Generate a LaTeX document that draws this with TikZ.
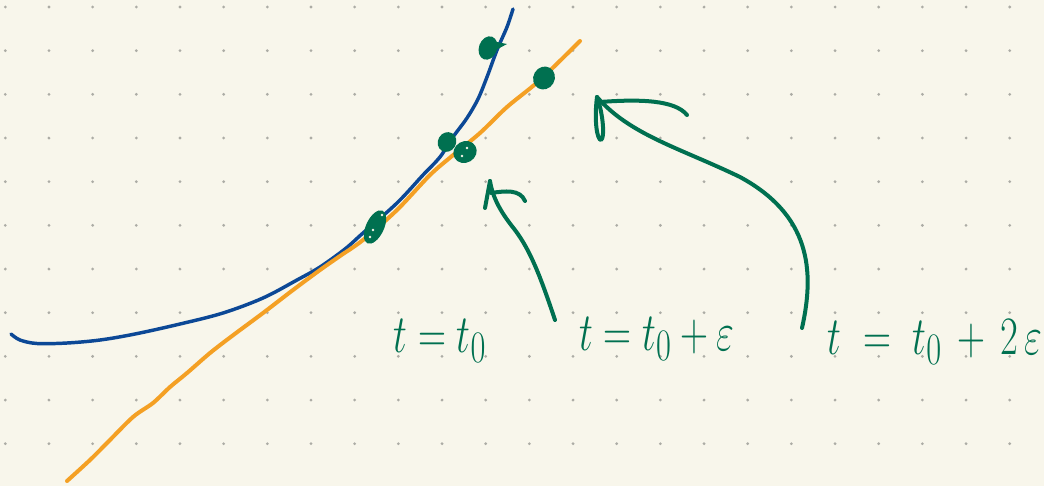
\documentclass[tikz,border=0pt]{standalone}
\usepackage{graphicx}
\definecolor{paper}{RGB}{248,246,235}
\definecolor{griddot}{RGB}{172,172,165}
\definecolor{curveblue}{RGB}{12,72,150}
\definecolor{lineorange}{RGB}{244,160,36}
\definecolor{inkgreen}{RGB}{0,112,80}
\tikzset{
  bluecurve/.style={draw=curveblue, line width=2.6pt, line cap=round, line join=round},
  orangeline/.style={draw=lineorange, line width=3pt, line cap=round, line join=round},
  inkstroke/.style={draw=inkgreen, line width=3pt, line cap=round, line join=round},
  blob/.style={fill=inkgreen},
  speck/.style={fill=paper},
  handlabel/.style={text=inkgreen, anchor=base, inner sep=0pt, font=\Huge},
}
% hand lettering: a little wider and much taller than the font
\newcommand{\tall}[1]{\scalebox{1.17}[1.63]{#1}}
\begin{document}
\begin{tikzpicture}[x=0.75pt, y=-0.75pt]
  % paper and dot grid
  \fill[paper] (0,0) rectangle (1044,486);
  \useasboundingbox (0,0) rectangle (1044,486);
  \foreach \i in {0,...,23}
    \foreach \j in {0,...,10}
      \fill[griddot] ({5.3+43.67*\i},{7+43.67*\j}) circle (1.15pt);

  % the curve
  \draw[bluecurve] plot[smooth, tension=0.55] coordinates {
    (11,334) (20,340) (37,343.5) (67,343) (100,340) (135,334) (180,324)
    (223,313) (263,298) (297,280) (320,267) (345,249) (363,233) (397,203)
    (423,175) (440,157) (453,137) (467,118) (478,99) (487,77) (497,50)
    (507,27) (513,9)};

  % the straight line (drawn by hand)
  \draw[orangeline] plot[smooth, tension=0.5] coordinates {
    (67,481) (90,460) (107,443) (133,417) (153,403) (170,387) (187,373)
    (210,353) (232,336) (263,313) (293,290) (320,270) (340,256) (363,240)
    (397,210) (430,175) (452,156) (480,133) (507,107) (540,80) (580,41)};

  % marked points
  \fill[blob, rotate around={-25:(375,227)}] (375,227) ellipse (6.75pt and 13.5pt);
  \fill[speck] (382,215) circle (1.1pt);
  \fill[speck] (373,230) circle (1pt);
  \fill[speck] (370,237) circle (1pt);

  \fill[blob, rotate around={-30:(447,142)}] (447,142) ellipse (6.8pt and 7.6pt);

  \fill[blob, rotate around={30:(465,152)}] (465,152) ellipse (9pt and 8pt);
  \fill[speck] (462,156) circle (1.1pt);
  \fill[speck] (467,148) circle (1.1pt);

  \fill[blob, rotate around={-20:(488,48)}] (488,48) ellipse (6.8pt and 9pt);
  \fill[blob] (492,41) -- (507,44) -- (494,51) -- cycle;

  \fill[blob, rotate around={-30:(544,78)}] (544,78) ellipse (8pt and 8.8pt);

  % labels
  \node[handlabel] (lab0) at (440,352) {\tall{$t = t_0$}};
  \node[handlabel] (lab1) at (657,350) {\tall{$t = t_0 + \varepsilon$}};
  \node[handlabel] (lab2) at (935,354) {\tall{$t \;=\; t_0 \,+\, 2\,\varepsilon$}};

  % arrow from the second label to the point at t0+eps
  \coordinate (tailA) at (555,320);
  \coordinate (midA) at (515,230);
  \coordinate (tipA) at (490,181);
  \draw[inkstroke] (tailA) .. controls (540,275) and (530,250) .. (midA)
                   .. controls (503,215) and (493,200) .. (tipA);
  \coordinate (headAl) at (485,208);
  \coordinate (headAr) at (525,201);
  \draw[inkstroke] (tipA) -- (headAl);
  \draw[inkstroke] (491,193) .. controls (505,191) and (520,189) .. (headAr);

  % arrow from the third label to the point at t0+2eps
  \coordinate (tailB) at (802,328);
  \coordinate (midB) at (740,177);
  \coordinate (tipB) at (597,97);
  \draw[inkstroke] (tailB) .. controls (815,270) and (810,215) .. (midB)
                   .. controls (680,148) and (630,135) .. (tipB);
  \coordinate (headBr) at (687,115);
  \draw[inkstroke] (tipB) .. controls (594,120) and (597,140) .. (601,140)
                   .. controls (605,138) and (603,115) .. (598,100);
  \draw[inkstroke] (600,102) .. controls (640,99) and (675,100) .. (headBr);
\end{tikzpicture}
\end{document}
